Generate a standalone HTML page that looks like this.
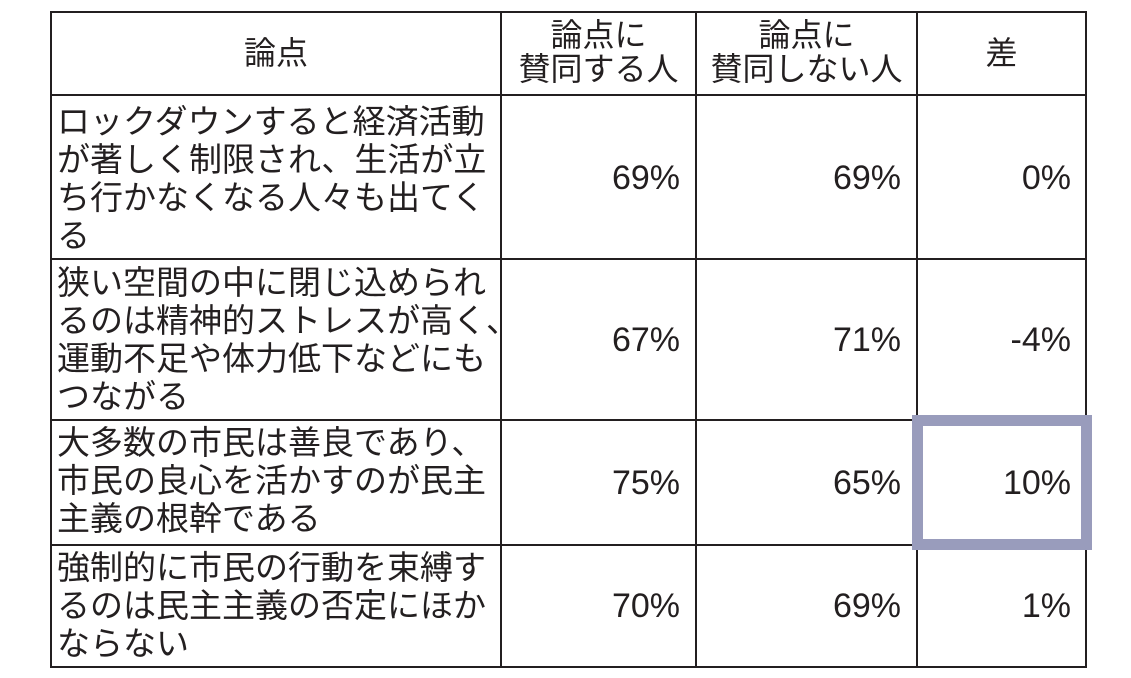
<!DOCTYPE html>
<html><head><meta charset="utf-8"><style>
body{margin:0;width:1131px;height:678px;background:#fff;position:relative;overflow:hidden;font-family:"Liberation Sans","Noto Sans CJK JP",sans-serif;color:#231f20}
.l{position:absolute;background:#231f20}
.t{position:absolute;font-size:33px;line-height:38px;white-space:nowrap}
.n{position:absolute;font-size:34px;text-align:right;white-space:nowrap;line-height:40px}
.h{position:absolute;font-size:32px;line-height:34px;text-align:center;white-space:nowrap}
</style></head><body>
<div class="l" style="left:50px;top:11px;width:1037px;height:2px"></div>
<div class="l" style="left:50px;top:94px;width:1037px;height:2px"></div>
<div class="l" style="left:50px;top:258px;width:1037px;height:2px"></div>
<div class="l" style="left:50px;top:419px;width:1037px;height:2px"></div>
<div class="l" style="left:50px;top:544px;width:1037px;height:2px"></div>
<div class="l" style="left:50px;top:666px;width:1037px;height:2px"></div>
<div class="l" style="left:50px;top:11px;width:2px;height:657px"></div>
<div class="l" style="left:500px;top:11px;width:2px;height:657px"></div>
<div class="l" style="left:695px;top:11px;width:2px;height:657px"></div>
<div class="l" style="left:916px;top:11px;width:2px;height:657px"></div>
<div class="l" style="left:1085px;top:11px;width:2px;height:657px"></div>
<div style="position:absolute;left:912px;top:415px;width:158px;height:113px;border:11px solid #999cbc;background:#fff"></div>

<div class="h" style="left:50px;width:452px;top:36px">論点</div>
<div class="h" style="left:502px;width:193px;top:18px">論点に<br>賛同する人</div>
<div class="h" style="left:697px;width:219px;top:18px">論点に<br>賛同しない人</div>
<div class="h" style="left:918px;width:167px;top:36px">差</div>

<div class="t" style="left:57px;top:103px">ロックダウンすると経済活動<br>が著しく制限され、生活が立<br>ち行かなくなる人々も出てく<br>る</div>
<div class="t" style="left:57px;top:264px">狭い空間の中に閉じ込められ<br>るのは精神的ストレスが高く、<br>運動不足や体力低下などにも<br>つながる</div>
<div class="t" style="left:57px;top:424px">大多数の市民は善良であり、<br>市民の良心を活かすのが民主<br>主義の根幹である</div>
<div class="t" style="left:57px;top:549px">強制的に市民の行動を束縛す<br>るのは民主主義の否定にほか<br>ならない</div>

<div class="n" style="right:451px;top:158px">69%</div>
<div class="n" style="right:230px;top:158px">69%</div>
<div class="n" style="right:60px;top:158px">0%</div>
<div class="n" style="right:451px;top:320px">67%</div>
<div class="n" style="right:230px;top:320px">71%</div>
<div class="n" style="right:60px;top:320px">-4%</div>
<div class="n" style="right:451px;top:463px">75%</div>
<div class="n" style="right:230px;top:463px">65%</div>
<div class="n" style="right:60px;top:463px">10%</div>
<div class="n" style="right:451px;top:586px">70%</div>
<div class="n" style="right:230px;top:586px">69%</div>
<div class="n" style="right:60px;top:586px">1%</div>
</body></html>
